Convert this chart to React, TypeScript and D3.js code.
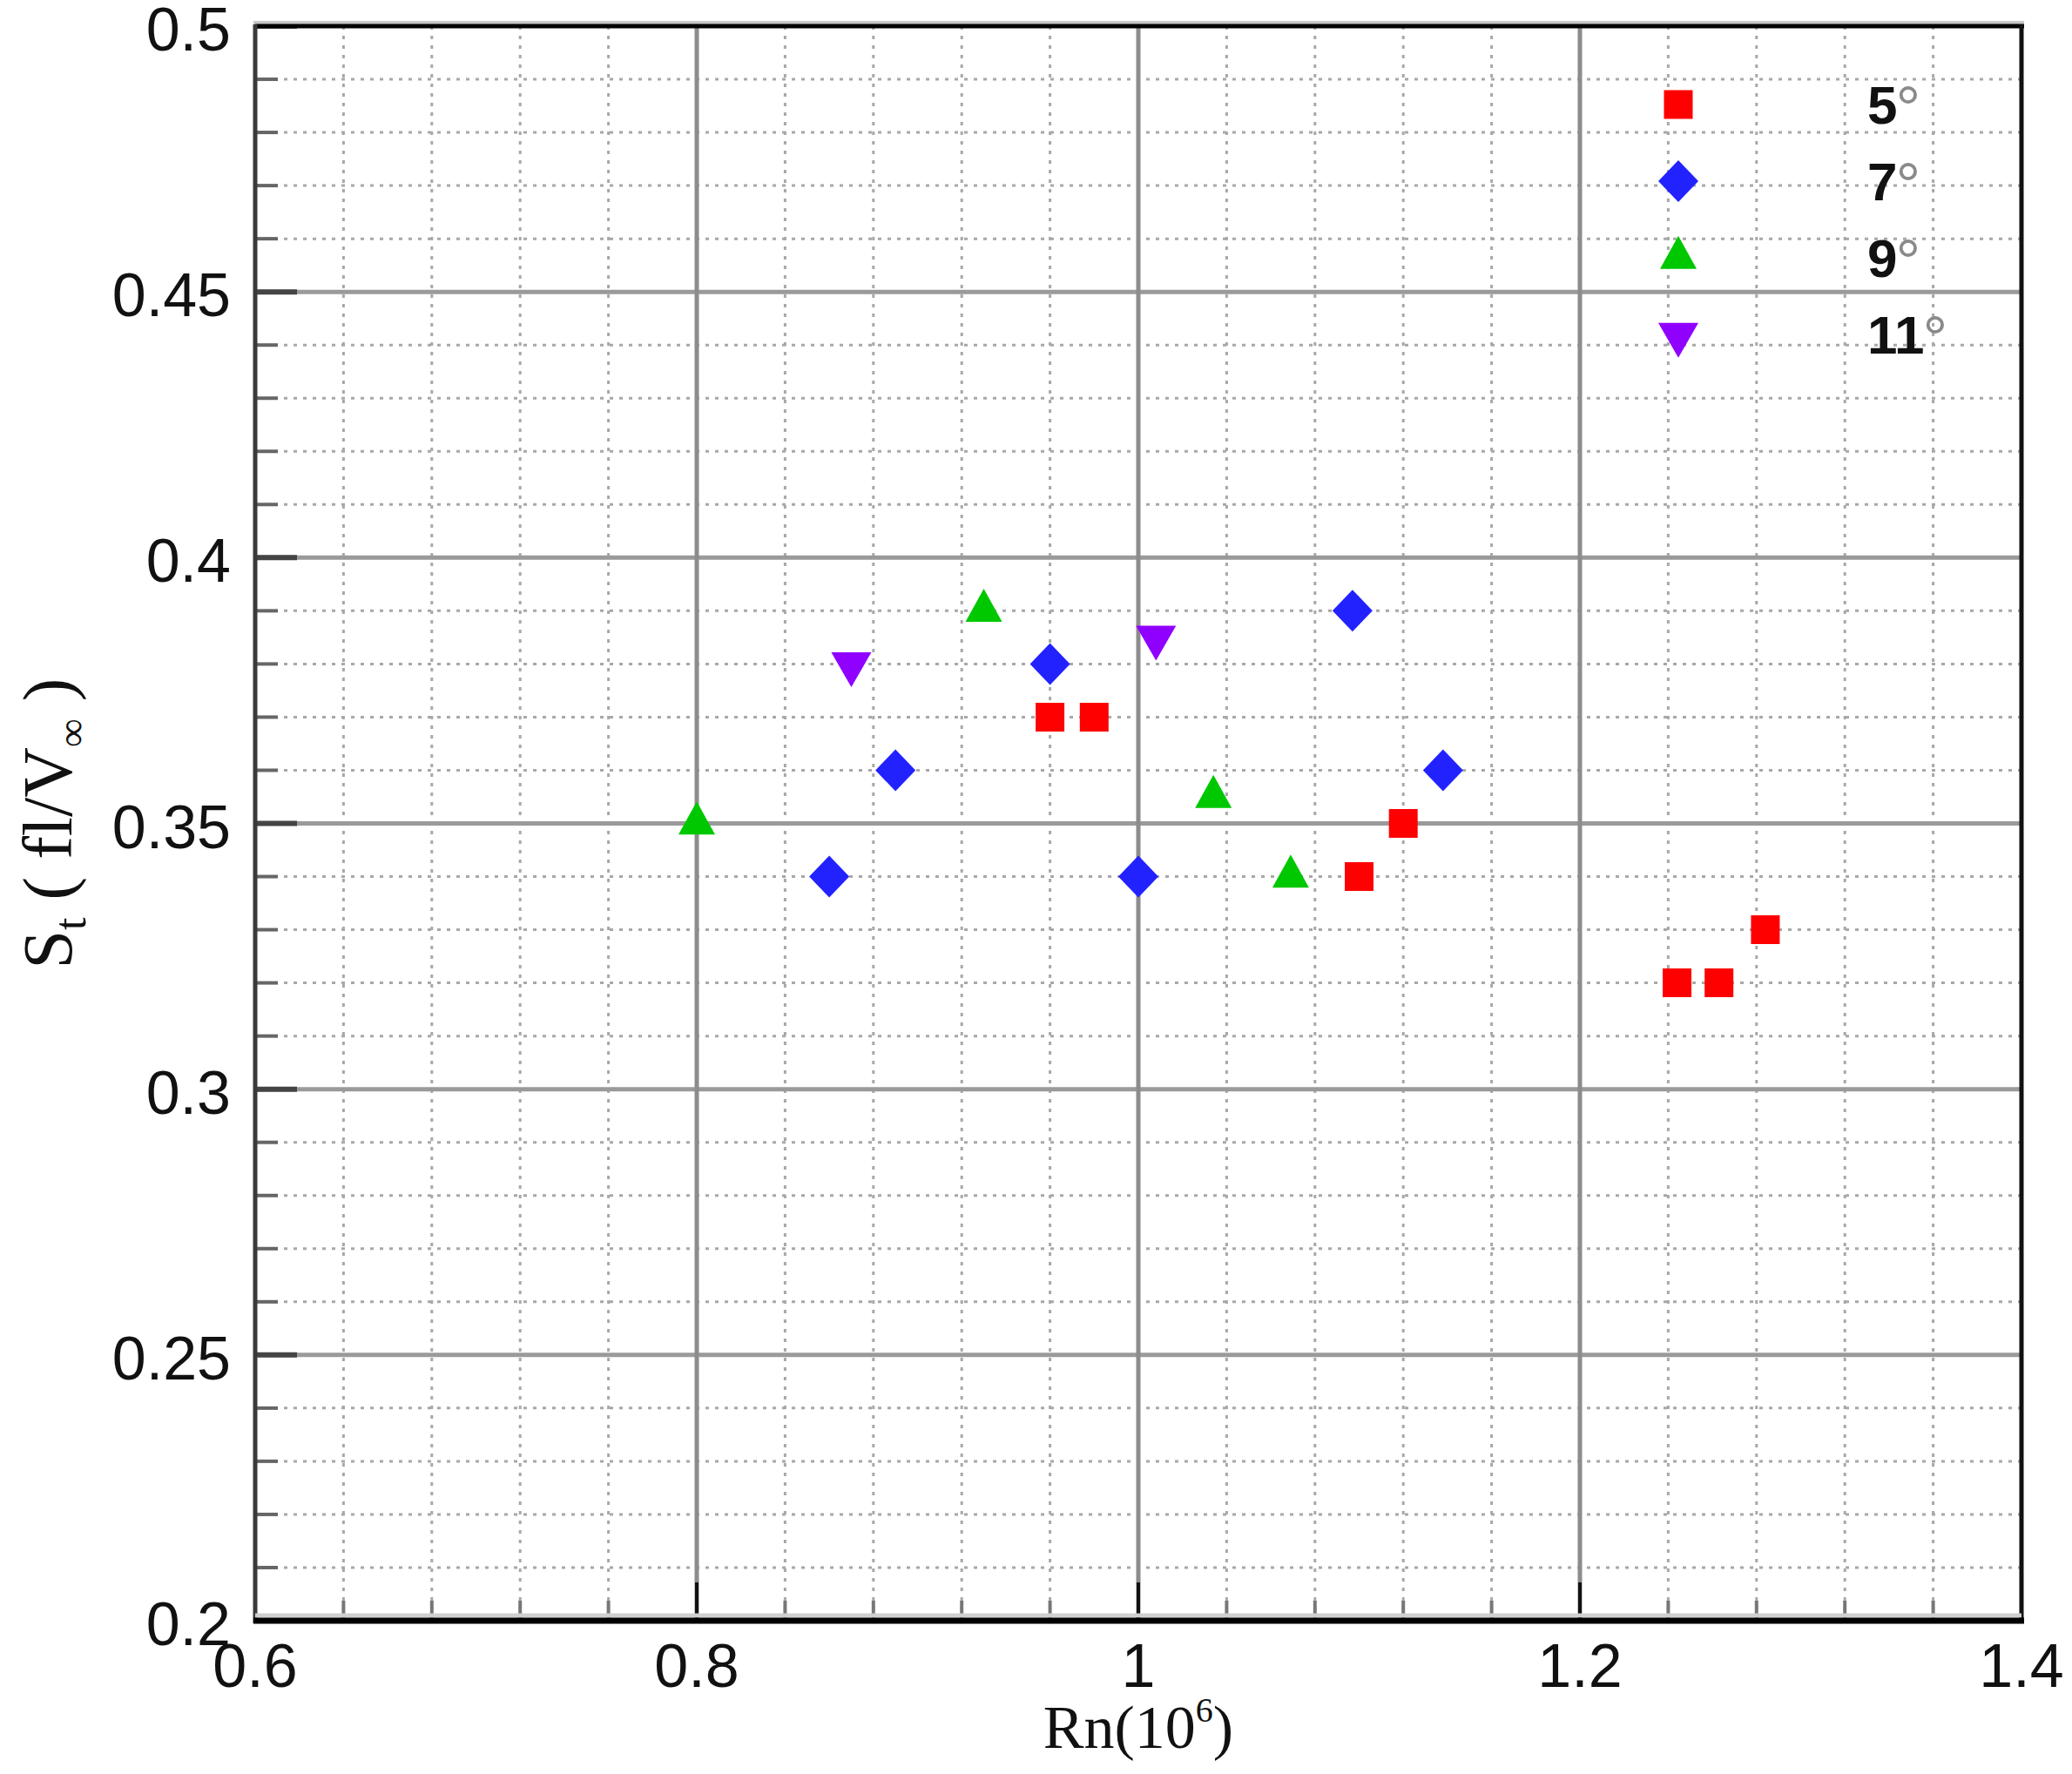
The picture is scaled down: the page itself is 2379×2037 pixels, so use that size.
import * as d3 from 'd3'

// Strouhal number vs Reynolds number, four inclination angles
const series = ['5°', '7°', '9°', '11°']
const rn5 = [0.96, 0.98, 1.1, 1.12, 1.244, 1.263, 1.284]
const st5 = [0.37, 0.37, 0.34, 0.35, 0.32, 0.32, 0.33]
const rn7 = [0.86, 0.89, 0.96, 1.0, 1.097, 1.138]
const st7 = [0.34, 0.36, 0.38, 0.34, 0.39, 0.36]
const rn9 = [0.8, 0.93, 1.034, 1.069]
const st9 = [0.35, 0.39, 0.355, 0.34]
const rn11 = [0.87, 1.008]
const st11 = [0.38, 0.385]

const xTicks = [0.6, 0.8, 1, 1.2, 1.4]
const yTicks = [0.2, 0.25, 0.3, 0.35, 0.4, 0.45, 0.5]

const W = 2379
const H = 2037
const margin = { left: 293, top: 30, right: W - 2321, bottom: H - 1861 }

const colors = ['#ff0000', '#2222ff', '#00c800', '#9000ff']

const markerPath = (kind: number) => {
  if (kind === 0) {
    const s = 16.5
    return `M${-s},${-s}H${s}V${s}H${-s}Z`
  }
  if (kind === 1) return 'M0,-24L23,0L0,24L-23,0Z'
  if (kind === 2) return 'M0,-25.3L21,12.7L-21,12.7Z'
  return 'M-23,-13.3L23,-13.3L0,26.7Z'
}

const App = () => {
  const x = d3
    .scaleLinear()
    .domain([0.6, 1.4])
    .range([margin.left, W - margin.right])
  const y = d3
    .scaleLinear()
    .domain([0.2, 0.5])
    .range([H - margin.bottom, margin.top])

  const fmt = d3.format('~g')
  const isMajor = (v: number, arr: number[]) => arr.some(t => Math.abs(t - v) < 1e-6)
  const xMinor = d3.range(0, 21).map(i => 0.6 + i * 0.04).filter(v => !isMajor(v, xTicks))
  const yMinor = d3.range(0, 31).map(i => 0.2 + i * 0.01).filter(v => !isMajor(v, yTicks))

  const points = [
    rn5.map((r, i) => ({ r, s: st5[i] })),
    rn7.map((r, i) => ({ r, s: st7[i] })),
    rn9.map((r, i) => ({ r, s: st9[i] })),
    rn11.map((r, i) => ({ r, s: st11[i] })),
  ]

  const x0 = x(0.6)
  const x1 = x(1.4)
  const y0 = y(0.2)
  const y1 = y(0.5)

  return (
    <svg
      width={W}
      height={H}
      style={{ position: 'absolute', left: 0, top: 0, display: 'block', background: '#fff' }}
    >
      {/* minor grid */}
      <g stroke="#a8a8a8" strokeWidth={3} strokeDasharray="4 7">
        {xMinor.map((v, i) => (
          <line key={'xm' + i} x1={x(v)} x2={x(v)} y1={y1} y2={y0} />
        ))}
        {yMinor.map((v, i) => (
          <line key={'ym' + i} x1={x0} x2={x1} y1={y(v)} y2={y(v)} />
        ))}
      </g>
      {/* major grid */}
      <g strokeWidth={5}>
        {yTicks.slice(1, -1).map((v, i) => (
          <line key={'yg' + i} x1={x0} x2={x1} y1={y(v)} y2={y(v)} stroke="#9a9a9a" />
        ))}
        {xTicks.slice(1, -1).map((v, i) => (
          <line key={'xg' + i} x1={x(v)} x2={x(v)} y1={y1} y2={y0} stroke="#8c8c8c" />
        ))}
      </g>

      {/* data */}
      {points.map((pts, k) => (
        <g key={'s' + k} fill={colors[k]}>
          {pts.map((p, i) => (
            <path key={i} d={markerPath(k)} transform={`translate(${x(p.r)},${y(p.s)})`} />
          ))}
        </g>
      ))}

      {/* ticks */}
      <g>
        {yTicks.map((v, i) => (
          <line key={'yt' + i} x1={x0} x2={x0 + 48} y1={y(v)} y2={y(v)} stroke="#444" strokeWidth={6} />
        ))}
        {yMinor.map((v, i) => (
          <line key={'ymt' + i} x1={x0} x2={x0 + 26} y1={y(v)} y2={y(v)} stroke="#666" strokeWidth={4} />
        ))}
        {xTicks.map((v, i) => (
          <line key={'xt' + i} x1={x(v)} x2={x(v)} y1={y0} y2={y0 - 44} stroke="#111" strokeWidth={4} />
        ))}
        {xMinor.map((v, i) => (
          <line key={'xmt' + i} x1={x(v)} x2={x(v)} y1={y0} y2={y0 - 23} stroke="#777" strokeWidth={4} />
        ))}
      </g>

      {/* frame */}
      <line x1={x0 - 2} x2={x1 + 3} y1={y1 - 4} y2={y1 - 4} stroke="#c8c8c8" strokeWidth={4} />
      <line x1={x0} x2={x1 + 3} y1={y1} y2={y1} stroke="#000" strokeWidth={5} />
      <line x1={x1} x2={x1} y1={y1 - 2} y2={y0 + 3} stroke="#111" strokeWidth={5} />
      <line x1={x0} x2={x0} y1={y1 - 2} y2={y0 + 3} stroke="#3a3a3a" strokeWidth={5} />
      <line x1={x0} x2={x1} y1={y0 - 6} y2={y0 - 6} stroke="#cfcfcf" strokeWidth={5} />
      <line x1={x0 - 2} x2={x1 + 3} y1={y0} y2={y0} stroke="#000" strokeWidth={7} />

      {/* tick labels */}
      <g fontFamily="'Liberation Sans', Arial, sans-serif" fontSize={70} fill="#111">
        {yTicks.map((v, i) => (
          <text key={'yl' + i} x={x0 - 28} y={y(v)} dy="0.4em" textAnchor="end">
            {fmt(v)}
          </text>
        ))}
        {xTicks.map((v, i) => (
          <text key={'xl' + i} x={x(v)} y={y0 + 76} textAnchor="middle">
            {fmt(v)}
          </text>
        ))}
      </g>

      {/* axis titles */}
      <text
        x={(x0 + x1) / 2}
        y={2007}
        textAnchor="middle"
        fontFamily="'Liberation Serif', 'Times New Roman', serif"
        fontSize={70}
        fill="#111"
      >
        Rn(10
        <tspan fontSize={40} dy={-30}>6</tspan>
        <tspan dy={30}>)</tspan>
      </text>
      <text
        transform={`translate(82,${(y0 + y1) / 2}) rotate(-90)`}
        textAnchor="middle"
        fontFamily="'Liberation Serif', 'Times New Roman', serif"
        fontSize={80}
        fill="#111"
      >
        S<tspan fontSize={52} dy={16}>t</tspan>
        <tspan dy={-16}> ( fl/V</tspan>
        <tspan fontSize={46} dy={16}>∞</tspan>
        <tspan dy={-16}> )</tspan>
      </text>

      {/* legend */}
      {series.map((name, k) => {
        const cy = 120 + k * 88
        const num = name.replace('°', '')
        return (
          <g key={'lg' + k}>
            <path d={markerPath(k)} transform={`translate(1927,${cy})`} fill={colors[k]} />
            <text
              x={2144}
              y={cy + 22}
              fontFamily="'Liberation Sans', Arial, sans-serif"
              fontSize={62}
              fontWeight="bold"
              fill="#111"
            >
              {num}
              <tspan fontWeight="normal" fill="#8a8a8a" fontSize={72} dx={-2} dy={7}>°</tspan>
            </text>
          </g>
        )
      })}
    </svg>
  )
}

export default App
